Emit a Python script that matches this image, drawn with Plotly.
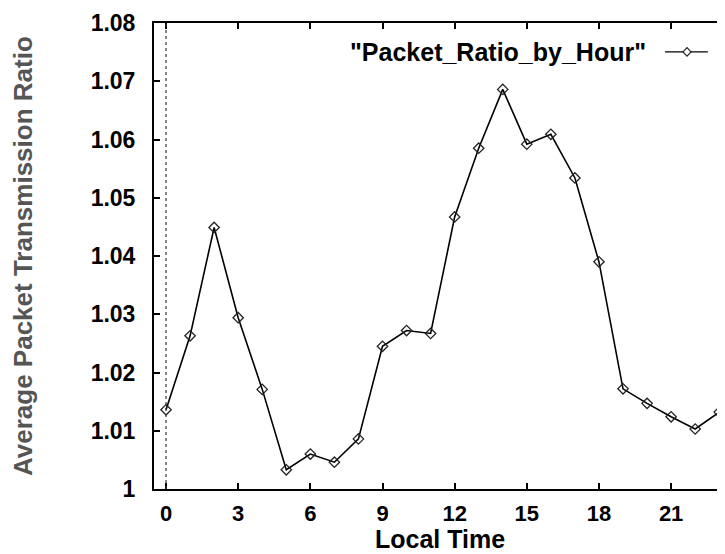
import plotly.graph_objects as go

hours = list(range(24))
ratio = [1.0136, 1.0263, 1.0449, 1.0294, 1.0171, 1.0033, 1.0060, 1.0046,
         1.0086, 1.0245, 1.0272, 1.0267, 1.0467, 1.0585, 1.0686, 1.0592,
         1.0609, 1.0534, 1.0390, 1.0172, 1.0147, 1.0124, 1.0103, 1.0132]
x_ticks = [0, 3, 6, 9, 12, 15, 18, 21]
y_ticks = [1.00, 1.01, 1.02, 1.03, 1.04, 1.05, 1.06, 1.07, 1.08]
y_tick_text = ["1", "1.01", "1.02", "1.03", "1.04", "1.05", "1.06", "1.07", "1.08"]
series_name = '"Packet_Ratio_by_Hour"'
x_title = "Local Time"
y_title = "Average Packet Transmission Ratio"

FONT = "Liberation Sans, Arial, sans-serif"

fig = go.Figure()
fig.add_trace(go.Scatter(
    x=hours, y=ratio, mode="lines+markers", name=series_name,
    line=dict(color="black", width=1.6),
    marker=dict(symbol="diamond-open", size=8, color="#222",
                line=dict(width=1.3, color="#222")),
    showlegend=False, cliponaxis=False,
))

# vertical dotted zero line
fig.add_shape(type="line", xref="x", yref="paper", x0=0, x1=0, y0=0, y1=1,
              line=dict(color="#333", width=1.2, dash="dot"))

# legend (text then sample, gnuplot-style)
fig.add_annotation(xref="paper", yref="paper", x=0.865, y=0.938,
                   xanchor="right", yanchor="middle", showarrow=False,
                   text=series_name,
                   font=dict(family=FONT, size=25, color="black", weight="bold"))
fig.add_shape(type="line", xref="paper", yref="paper", x0=0.895, x1=0.970,
              y0=0.938, y1=0.938, line=dict(color="black", width=1.4))
fig.add_shape(type="path", xref="paper", yref="paper",
              path="M 0.9265 0.938 L 0.9335 0.947 L 0.9405 0.938 L 0.9335 0.929 Z",
              line=dict(color="#222", width=1.2), fillcolor="white")

fig.add_annotation(xref="paper", yref="paper", x=0.5, y=-0.107,
                   xanchor="center", yanchor="middle", showarrow=False,
                   text=x_title, borderpad=0,
                   font=dict(family=FONT, size=25, color="black", weight="bold"))
fig.add_annotation(xref="paper", yref="paper", x=-0.2294, y=0.5,
                   xanchor="center", yanchor="middle", showarrow=False,
                   textangle=-90, text=y_title,
                   font=dict(family=FONT, size=26, color="#555", weight="bold"))

# page body has an 8px margin, so the figure is offset by 8px
fig.update_layout(
    width=717, height=546,
    margin=dict(l=146, r=0, t=15, b=65, autoexpand=False),
    paper_bgcolor="white", plot_bgcolor="white",
    xaxis=dict(range=[-0.5, 23.24], tickvals=x_ticks, ticks="inside", ticklen=6,
               tickwidth=1.5, tickcolor="black", showline=True, linecolor="black",
               linewidth=2, mirror="ticks", showgrid=False, zeroline=False,
               automargin=False, ticklabelstandoff=4,
               tickfont=dict(family=FONT, size=22, color="black", weight="bold")),
    yaxis=dict(range=[1.0, 1.08], tickvals=y_ticks, ticktext=y_tick_text,
               ticks="inside", ticklen=6, tickwidth=1.5, tickcolor="black",
               showline=True, linecolor="black", linewidth=2, showgrid=False,
               zeroline=False, automargin=False, ticklabelstandoff=12,
               tickfont=dict(family=FONT, size=23, color="black", weight="bold")),
)

fig.write_html("out.html")
